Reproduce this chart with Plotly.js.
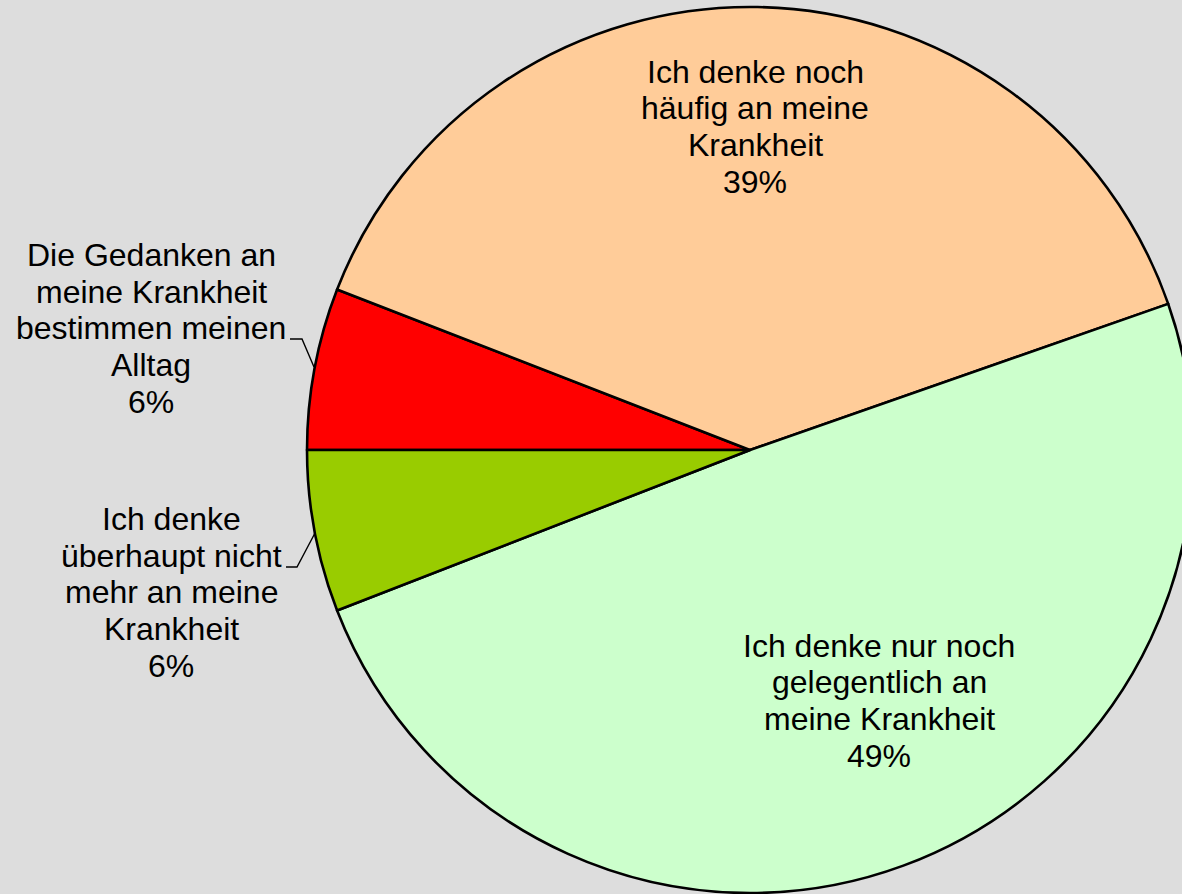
<!DOCTYPE html>
<html>
<head>
<meta charset="utf-8">
<script src="https://cdn.plot.ly/plotly-3.0.1.min.js"></script>
<style>
html, body { margin: 0; padding: 0; overflow: hidden; background: #DDDDDD; }
#chart { width: 1320px; height: 894px; }
</style>
</head>
<body>
<div id="chart"></div>
<script>
// Data (percent of respondents), slices in clockwise order starting at 9 o'clock
const categories = [
  "Die Gedanken an<br>meine Krankheit<br>bestimmen meinen<br>Alltag",
  "Ich denke noch<br>häufig an meine<br>Krankheit",
  "Ich denke nur noch<br>gelegentlich an<br>meine Krankheit",
  "Ich denke<br>überhaupt nicht<br>mehr an meine<br>Krankheit"
];
const values = [5.9, 38.75, 49.45, 5.9];
const sliceColors = ["#FF0000", "#FFCC99", "#CCFFCC", "#99CC00"];

// Layout helpers (pixel positions of the label blocks, leader lines)
const W = 1320, H = 894;
const px = x => x / W;
const py = y => 1 - y / H;
const FONT = { family: "Liberation Sans, Arial, sans-serif", size: 32, color: "#000000" };
const LINE_GAP = 36.7;
const labelAnchors = [
  { x: 151, y: 255 },   // red slice label (outside)
  { x: 755, y: 71.7 },  // peach slice label
  { x: 879, y: 645.7 }, // light green slice label
  { x: 171, y: 519 }    // green slice label (outside)
];
const leaders = [
  [[290, 339], [302, 339], [314, 367]],
  [[286, 567], [297, 567], [315, 533]]
];

const total = values.reduce((a, b) => a + b, 0);
const annotations = [];
categories.forEach((cat, i) => {
  const lines = cat.split("<br>").concat([Math.round(values[i] / total * 100) + "%"]);
  lines.forEach((t, j) => {
    annotations.push({
      xref: "paper", yref: "paper",
      x: px(labelAnchors[i].x), y: py(labelAnchors[i].y + j * LINE_GAP),
      xanchor: "center", yanchor: "middle",
      text: t, showarrow: false, font: FONT
    });
  });
});

const shapes = leaders.map(pts => ({
  type: "path", xref: "paper", yref: "paper",
  path: "M" + pts.map(p => px(p[0]) + "," + py(p[1])).join("L"),
  line: { color: "#000000", width: 1.4 }
}));

const trace = {
  type: "pie",
  labels: categories,
  values: values,
  sort: false,
  direction: "clockwise",
  rotation: 270,
  marker: { colors: sliceColors, line: { color: "#000000", width: 2.6 } },
  textinfo: "none",
  hoverinfo: "label+percent",
  showlegend: false,
  domain: { x: [307 / W, 1193 / W], y: [1 / H, 887 / H] }
};

const layout = {
  width: W,
  height: H,
  margin: { l: 0, r: 0, t: 0, b: 0 },
  paper_bgcolor: "#DDDDDD",
  plot_bgcolor: "#DDDDDD",
  showlegend: false,
  annotations: annotations,
  shapes: shapes
};

Plotly.newPlot("chart", [trace], layout, { displayModeBar: false, staticPlot: true });
</script>
</body>
</html>
